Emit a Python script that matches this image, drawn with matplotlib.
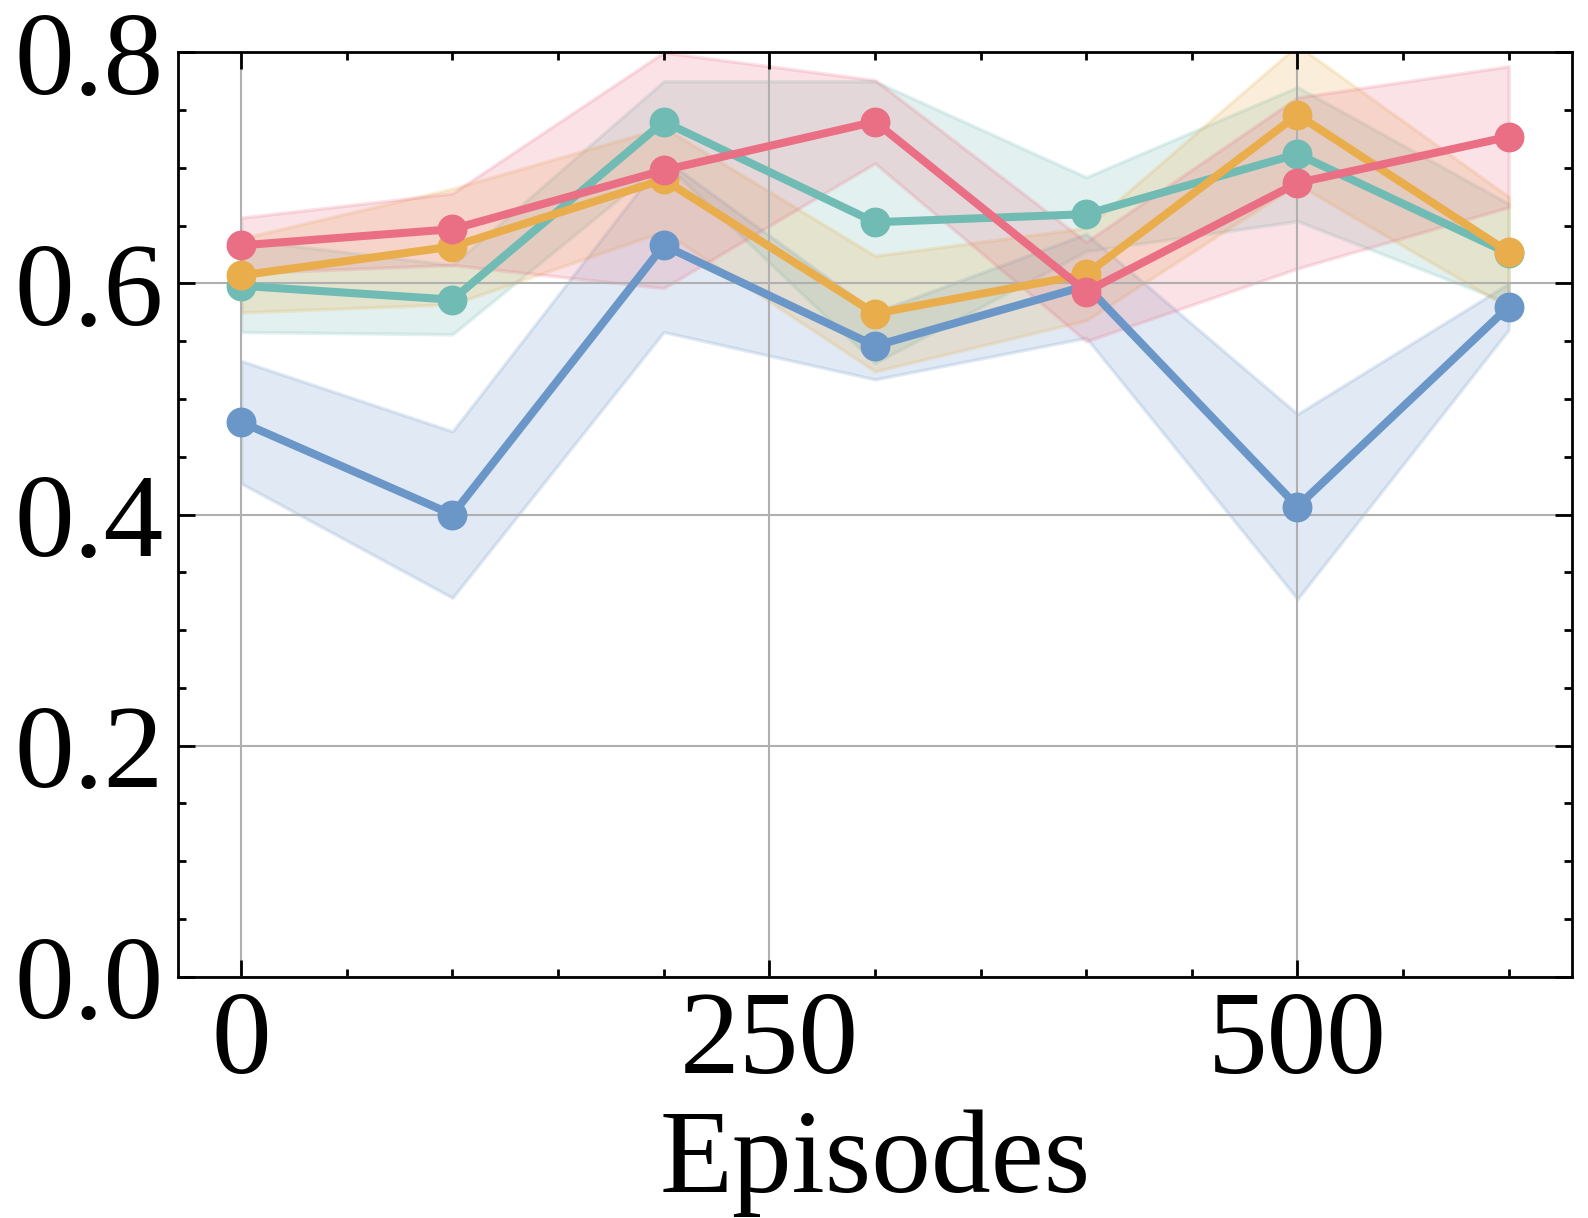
import numpy as np
import matplotlib
matplotlib.use("Agg")
import matplotlib.pyplot as plt
from matplotlib.ticker import MultipleLocator

plt.rcParams['font.family'] = ['Liberation Serif', 'DejaVu Serif']

episodes = [0, 100, 200, 300, 400, 500, 600]

# mean and std for each run
blue_mean = [0.480, 0.400, 0.633, 0.546, 0.598, 0.407, 0.580]
blue_std = [0.053, 0.072, 0.075, 0.029, 0.045, 0.080, 0.020]
teal_mean = [0.598, 0.586, 0.740, 0.653, 0.660, 0.712, 0.626]
teal_std = [0.040, 0.030, 0.035, 0.122, 0.032, 0.058, 0.043]
orange_mean = [0.607, 0.632, 0.690, 0.574, 0.608, 0.746, 0.627]
orange_std = [0.032, 0.050, 0.045, 0.050, 0.040, 0.060, 0.048]
pink_mean = [0.633, 0.647, 0.698, 0.740, 0.593, 0.687, 0.727]
pink_std = [0.024, 0.031, 0.102, 0.036, 0.043, 0.074, 0.061]

series = [
    (blue_mean, blue_std, '#6A96C8'),
    (teal_mean, teal_std, '#70BBB3'),
    (orange_mean, orange_std, '#E9AD4C'),
    (pink_mean, pink_std, '#EA6F85'),
]

fig, ax = plt.subplots(figsize=(15.88, 12.18), dpi=100)
fig.subplots_adjust(left=0.112, right=0.990, top=0.957, bottom=0.198)

x = np.array(episodes)
for mean, std, color in series:
    mean = np.array(mean)
    std = np.array(std)
    ax.fill_between(x, mean - std, mean + std, color=color, alpha=0.2, linewidth=2.5)
    ax.plot(x, mean, color=color, linewidth=5.8, marker='o', markersize=20.5)

ax.set_ylim(0, 0.8)
ax.set_xlim(-30, 630)
ax.xaxis.set_major_locator(MultipleLocator(250))
ax.xaxis.set_minor_locator(MultipleLocator(50))
ax.yaxis.set_major_locator(MultipleLocator(0.2))
ax.yaxis.set_minor_locator(MultipleLocator(0.05))
ax.set_yticklabels([f"{v:.1f}" for v in ax.get_yticks()])

ax.grid(which='major', color='#b0b0b0', linewidth=1.5)
ax.tick_params(which='both', direction='in', top=True, right=True, width=2)
ax.tick_params(which='major', length=12, labelsize=86, pad=10)
ax.tick_params(which='minor', length=6)
for s in ax.spines.values():
    s.set_linewidth(2)

ax.set_xlabel("Episodes", fontsize=86, labelpad=8)

fig.savefig("out.png", dpi=100)
